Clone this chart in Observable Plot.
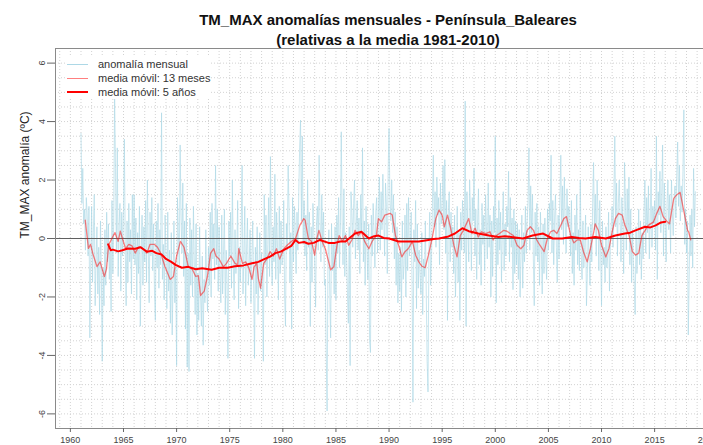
<!DOCTYPE html>
<html><head><meta charset="utf-8">
<script src="https://cdn.jsdelivr.net/npm/d3@7"></script>
<script src="https://cdn.jsdelivr.net/npm/@observablehq/plot@0.6"></script>
<style>
html,body{margin:0;padding:0;background:#fff;overflow:hidden;width:703px;height:445px}
#wrap{position:relative;width:703px;height:445px;overflow:hidden;font-family:"Liberation Sans",Arial,sans-serif}
#chart{position:absolute;left:0;top:0}
#title{position:absolute;left:0;top:10px;width:776px;text-align:center;font-weight:bold;font-size:15px;line-height:20px;color:#111}
#legend{position:absolute;left:67px;top:57px;font-size:11px;color:#333;line-height:14px;background:#fff}
#legend div{display:flex;align-items:center;height:14px}
#legend span.l{display:inline-block;width:21px;margin-right:10px}
</style></head>
<body><div id="wrap"><div id="chart"></div>
<div id="title">TM_MAX anomalías mensuales - Península_Baleares<br>(relativas a la media 1981-2010)</div>
<div id="legend">
<div><span class="l" style="border-top:1px solid #add8e6"></span>anomalía mensual</div>
<div><span class="l" style="border-top:1.3px solid rgba(255,0,0,0.5)"></span>media móvil: 13 meses</div>
<div><span class="l" style="border-top:2px solid #ff0000"></span>media móvil: 5 años</div>
</div></div>
<script>
// monthly anomalies, January 1961 onward (one row per year)
const startYear = 1961;
const anomalia = [
 3.6, 1.2, 2.4, 0.5, 1.0, -0.4, 1.4, 0.8, -0.6, 1.1, -3.4, -0.9,
 1.1, -1.5, 0.2, 1.5, -2.3, -0.8, 0.4, -1.9, -0.3, -2.6, 0.6, -1.2,
 -4.2, -1.0, -2.3, 0.3, -1.6, 0.9, -0.8, 0.5, -1.4, -0.2, -2.5, 1.3,
 -1.2, 0.6, 4.8, 2.4, -0.5, 3.1, -1.3, 0.4, 1.2, -1.8, 0.9, -0.6,
 1.0, 3.4, -0.4, -2.3, 0.6, -1.5, 1.2, -0.8, 0.3, -1.9, 1.5, -0.7,
 1.5, -0.9, 0.7, -2.1, 0.2, -1.2, 1.1, -3.0, -0.5, 0.8, -1.6, 0.4,
 -0.8, 1.3, -1.5, 2.0, -0.3, -2.2, 0.9, -0.6, 1.4, -1.1, 0.5, -1.8,
 -2.8, 0.6, -1.0, 1.2, -1.7, 0.3, -0.9, 4.3, -1.4, -0.2, -2.1, 0.8,
 -0.6, -2.4, 0.9, -1.8, -0.4, -2.9, 0.2, -3.3, -1.5, 0.6, -2.2, -1.0,
 -4.35, 1.4, 0.2, -0.9, 3.2, 0.8, -0.5, 1.9, -1.3, 0.6, -3.1, 1.2,
 -4.4, -0.5, -4.55, 0.7, -1.6, 0.3, -2.0, 1.1, -0.8, -2.6, 0.5, -3.3,
 -1.2, -2.8, 0.4, -1.9, -3.0, -0.6, -3.65, -1.4, -2.2, 0.3, -1.7, -2.5,
 -0.3, -1.6, 0.9, -2.0, 1.2, -0.7, 0.5, -1.4, 2.5, -0.9, 1.0, -1.8,
 0.4, -1.3, -2.2, 0.8, -1.9, -0.5, 1.0, -2.6, -0.4, -1.5, -4.1, 0.6,
 -0.6, 0.9, -1.7, 2.0, -0.8, -2.1, 0.3, -1.2, -0.5, 1.3, -2.4, -0.3,
 -1.5, 0.5, 2.5, -1.9, -0.6, 1.1, -2.3, -0.4, 0.7, -1.6, -0.9, 0.3,
 -2.2, -0.7, 0.6, -1.5, -4.1, -0.3, -1.9, 0.4, -2.6, -1.0, 0.2, -1.8,
 -0.5, -1.7, -4.2, 1.5, -0.9, 0.8, -2.0, -0.2, 1.4, -1.3, 2.8, -0.6,
 -1.6, 0.4, -0.8, 2.2, -1.4, 0.9, -0.3, -2.1, 1.1, -1.2, 0.6, -0.9,
 -0.7, 1.3, -1.9, -3.0, 0.5, -0.4, 2.5, 1.0, -1.5, 0.2, -3.1, 1.4,
 -0.8, 1.1, 0.3, -1.2, 0.9, -0.4, 1.6, 3.1, 4.05, 0.6, 3.5, -0.2,
 1.3, -0.6, 0.8, -1.1, 2.0, -0.3, 0.9, -3.0, 0.4, -1.5, 1.2, 0.2,
 -0.9, -2.35, 0.5, 1.1, -0.4, 2.85, 0.7, -0.8, 1.5, -0.3, 0.9, -1.6,
 -1.4, -3.9, -5.9, -0.6, 0.3, -1.8, -3.4, 0.5, -1.1, -0.2, -1.9, 0.4,
 -2.1, 0.8, -0.5, 1.4, -1.0, 0.3, 3.65, 0.6, -0.9, 1.7, -1.3, 0.2,
 -0.6, -1.9, -2.9, 0.4, -4.35, 1.6, 0.9, -0.3, 1.2, 2.0, -0.7, 0.5,
 1.3, -0.4, 0.7, -1.2, 1.5, 0.2, 3.1, -0.8, 0.6, -1.6, 1.1, -0.3,
 -1.4, 0.5, -3.5, -3.9, 0.8, -0.6, 1.2, 0.3, -1.0, 0.9, 1.4, -0.5,
 0.9, 2.1, -0.4, 1.6, 0.3, 2.2, 0.8, -0.6, 1.9, 1.1, -1.2, 2.4,
 3.77, 1.3, 0.6, 2.0, 0.2, 1.5, -0.7, 0.9, -1.6, 0.4, -2.2, -0.5,
 -1.8, -0.3, -2.5, 0.6, -1.4, -0.9, 0.8, -2.0, 1.2, -1.1, 1.4, -0.6,
 -0.2, 0.9, -1.5, -5.6, 0.3, -0.8, 1.3, -2.4, 0.5, -1.7, -0.4, -1.2,
 -1.9, 0.2, -2.6, -0.7, -1.3, 0.6, -1.8, -4.2, -5.25, -0.4, 0.9, -1.6,
 -0.6, 1.2, 2.85, 0.4, 1.6, -0.3, 2.1, 0.8, 1.4, -0.9, 1.9, 0.5,
 1.2, 2.5, 0.3, 2.7, -0.5, 1.3, -2.8, 1.0, 1.6, -0.8, 0.9, -0.3,
 0.4, -1.2, 0.8, -2.0, -0.6, 1.1, -1.5, 0.2, -2.8, 0.9, -0.4, 1.3,
 0.7, -0.5, 4.7, -3.0, 1.6, 0.3, -0.8, 2.0, 0.9, -1.1, 1.4, 0.6,
 2.4, -0.6, 1.0, -1.4, 0.5, 1.7, -0.9, 0.3, -1.6, 1.2, -0.2, 0.8,
 -1.1, 1.5, 0.4, -0.7, 1.9, -0.3, 0.8, -2.0, 0.6, -1.3, 1.1, 0.2,
 3.5, -2.2, 0.7, -0.9, 1.3, -0.4, 0.9, -1.5, 0.3, 1.6, -1.1, 0.5,
 -0.6, 1.1, 0.4, 2.3, -0.8, 1.4, -0.3, 0.7, -1.75, 1.0, -1.2, 0.6,
 -0.9, 0.5, -1.4, 0.3, -2.0, -0.6, 0.8, -1.7, 0.2, -0.8, 1.1, -0.5,
 0.6, 1.3, 3.1, -0.4, 1.8, 0.2, 1.5, -0.7, -2.3, 0.9, -0.6, 1.2,
 -0.8, 0.4, -1.6, 0.9, -0.3, -1.9, 0.5, -1.2, 0.7, -0.6, -1.4, 1.0,
 -0.4, 1.2, 0.6, 2.85, -0.5, 1.3, -0.9, 0.7, 1.5, -0.3, -1.5, 0.8,
 -0.7, 1.4, 2.85, 0.3, 1.8, -0.2, 2.1, 0.6, -0.5, 1.7, 0.4, 1.1,
 0.9, -0.6, 1.3, -1.2, 0.2, -1.6, 0.8, -0.4, 1.5, -0.9, 0.3, -1.1,
 2.0, -0.5, -1.4, 0.6, -1.0, -0.3, 0.8, -2.3, -1.2, 0.4, -0.7, -1.6,
 0.5, -0.8, 1.2, 2.6, 0.3, 1.5, -0.6, 2.0, 0.9, -1.1, 1.3, -0.4,
 -2.3, 0.6, -0.9, -0.3, -1.5, 0.4, -1.0, -0.6, 0.9, -1.8, -0.2, 0.5,
 1.1, -0.3, 1.5, 3.5, 0.4, 1.9, -0.6, 1.2, 2.0, 0.7, -0.8, 1.4,
 0.6, -1.2, 2.6, 1.3, -0.4, 1.7, 0.2, 2.1, -0.9, 1.0, -1.5, 0.3,
 -0.8, -1.6, -2.6, 0.4, -1.2, -0.3, 1.0, -0.9, 0.6, -1.4, 0.2, -0.7,
 0.9, 2.0, -0.5, 1.4, 0.2, 1.8, -0.7, 0.6, 2.4, -0.3, 1.1, 0.5,
 1.3, -0.4, 3.5, -1.4, 1.6, 0.8, 2.3, 0.2, 1.5, 3.2, -0.6, 1.9,
 0.5, -0.8, 1.2, 2.0, 0.3, 1.5, -0.5, 2.0, 0.9, 0.1, 1.3, 1.8,
 0.7, 2.2, 3.3, 1.1, 2.5, 0.6, 1.8, 0.9, 2.3, 4.4, -0.2, 1.0,
 -0.5, 0.6, -3.3, -1.4, 0.8, -0.6, 1.0, -1.0, 2.4, 0.4, 1.6
];

// 13-month moving average (year, value)
const ma13Year = [1961.4,1961.7,1961.9,1962.1,1962.5,1962.8,1963.2,1963.4,1963.6,1963.9,1964.2,1964.5,1964.7,1964.9,1965.2,1965.5,1965.8,1966.1,1966.4,1966.7,1967.0,1967.2,1967.5,1967.9,1968.2,1968.5,1968.9,1969.4,1969.7,1970.0,1970.36,1970.7,1971.1,1971.5,1971.8,1972.05,1972.25,1972.6,1972.9,1973.2,1973.5,1973.7,1974.0,1974.4,1974.7,1975.1,1975.5,1975.75,1975.85,1976.2,1976.5,1976.8,1977.1,1977.3,1977.55,1977.7,1977.9,1978.2,1978.5,1978.8,1979.1,1979.4,1979.7,1980.1,1980.4,1980.8,1981.2,1981.6,1981.97,1982.1,1982.4,1982.7,1983.0,1983.2,1983.4,1983.7,1984.0,1984.5,1984.8,1985.1,1985.3,1985.6,1985.9,1986.2,1986.5,1986.8,1987.1,1987.4,1987.7,1988.1,1988.4,1988.8,1989.0,1989.3,1989.6,1990.1,1990.3,1990.6,1990.9,1991.2,1991.5,1991.8,1992.2,1992.5,1992.8,1993.1,1993.4,1993.7,1994.05,1994.4,1994.7,1995.0,1995.2,1995.5,1995.8,1996.1,1996.4,1996.7,1997.0,1997.5,1997.8,1998.1,1998.4,1998.7,1999.1,1999.5,1999.8,2000.1,2000.4,2000.8,2001.1,2001.4,2001.7,2002.05,2002.4,2002.7,2003.0,2003.3,2003.6,2003.9,2004.2,2004.6,2004.9,2005.2,2005.5,2005.8,2006.1,2006.45,2006.7,2007.1,2007.4,2007.7,2008.0,2008.3,2008.65,2008.95,2009.3,2009.4,2009.7,2010.0,2010.4,2010.7,2011.0,2011.3,2011.6,2011.95,2012.2,2012.6,2012.9,2013.2,2013.5,2013.8,2014.1,2014.4,2014.9,2015.2,2015.5,2015.8,2016.2,2016.4,2016.8,2017.1,2017.4,2017.7,2018.1,2018.2,2018.4];
const ma13Val = [0.63,-0.34,-0.2,-0.5,-0.96,-0.8,-1.3,-1.05,-0.23,0.0,0.2,-0.1,0.25,0.0,-0.35,-0.2,-0.25,-0.5,-0.3,-0.3,-0.4,-0.5,-0.2,-0.2,-0.3,-0.5,-0.96,-1.4,-1.3,-0.6,-0.1,-0.3,-0.96,-1.07,-1.3,-1.27,-1.95,-1.8,-1.3,-0.5,-0.35,-0.6,-0.7,-0.97,-0.85,-0.6,-0.85,-0.9,-0.35,-0.85,-0.8,-1.0,-1.4,-0.97,-0.85,-1.37,-1.7,-0.85,-0.7,-0.45,-0.6,-0.35,-0.7,-0.35,-0.23,-0.1,0.0,0.45,0.68,0.63,0.0,-0.1,-0.57,0.0,0.28,-0.1,-0.35,-1.07,-0.97,-0.23,0.1,-0.1,0.1,-0.23,-0.05,0.28,0.1,0.23,-0.1,-0.35,-0.1,0.1,0.68,0.57,0.8,0.86,0.8,0.1,-0.23,-0.63,-0.45,-0.35,-0.1,-0.57,-0.8,-0.95,-1.0,-0.57,0.0,0.68,0.97,0.8,0.4,0.8,0.35,-0.23,-0.63,0.1,0.28,0.68,0.17,0.35,0.05,0.23,0.17,0.23,-0.05,0.1,0.17,0.28,0.25,0.17,0.1,-0.23,-0.35,-0.23,0.28,0.4,0.28,-0.05,-0.23,-0.45,0.0,0.23,0.28,0.17,0.4,0.68,0.75,0.1,-0.15,-0.05,-0.05,-0.45,-0.8,-0.35,0.28,0.5,0.28,-0.23,-0.63,-0.35,0.23,0.68,0.86,0.8,0.45,0.1,-0.45,-0.57,-0.5,0.1,0.28,0.45,0.57,0.86,1.1,0.75,0.57,0.5,1.37,1.5,1.58,1.03,0.28,0.23,-0.05];

// 5-year moving average (year, value)
const ma5Year = [1963.55,1963.8,1964.0,1964.5,1964.9,1965.4,1966.1,1966.6,1967.2,1967.7,1968.1,1968.6,1969.0,1969.5,1969.9,1970.5,1971.1,1971.8,1972.4,1973.3,1974.0,1974.8,1975.5,1976.3,1977.1,1977.7,1978.3,1978.8,1979.3,1979.8,1980.2,1980.8,1981.2,1981.5,1982.0,1982.4,1982.9,1983.5,1984.3,1984.9,1985.4,1985.9,1986.4,1986.8,1987.4,1988.1,1988.6,1989.0,1989.5,1990.0,1990.9,1991.8,1992.8,1993.7,1994.2,1994.7,1995.6,1996.2,1996.9,1997.5,1998.4,1999.4,2000.3,2000.9,2001.5,2002.6,2003.5,2004.5,2005.4,2006.3,2007.2,2007.9,2008.5,2009.4,2010.4,2011.3,2012.2,2012.7,2013.2,2014.1,2014.6,2015.1,2015.6,2016.0];
const ma5Val = [-0.2,-0.4,-0.38,-0.44,-0.4,-0.34,-0.35,-0.3,-0.45,-0.42,-0.5,-0.55,-0.7,-0.8,-0.9,-1.0,-0.97,-1.05,-1.02,-1.07,-1.0,-1.0,-0.95,-0.92,-0.85,-0.8,-0.7,-0.62,-0.5,-0.45,-0.37,-0.25,-0.05,-0.15,-0.12,-0.18,-0.15,-0.05,-0.15,-0.15,-0.1,-0.1,0.05,0.17,0.23,0.0,0.08,0.1,0.02,0.0,-0.1,-0.1,-0.1,-0.05,-0.02,0.0,0.07,0.17,0.35,0.25,0.17,0.1,0.05,0.08,0.05,0.0,0.1,0.17,0.0,0.0,0.05,0.02,0.0,0.05,0.0,0.1,0.17,0.2,0.28,0.4,0.38,0.45,0.55,0.57];

const yTicks = [-6, -4, -2, 0, 2, 4, 6];
const xTicks = [1960, 1965, 1970, 1975, 1980, 1985, 1990, 1995, 2000, 2005, 2010, 2015, 2020];
const yLabel = "TM_MAX anomalía (ºC)";

const monthly = anomalia.map((v, i) => ({x: startYear + i / 12, y: v}));
const ma13 = ma13Year.map((x, i) => ({x, y: ma13Val[i]}));
const ma5 = ma5Year.map((x, i) => ({x, y: ma5Val[i]}));

const gridStyle = {stroke: "#d2d2d2", strokeOpacity: 1, strokeDasharray: "1,2", strokeWidth: 1};

const chart = Plot.plot({
  width: 750, height: 445,
  marginLeft: 55, marginRight: 30, marginTop: 48, marginBottom: 17,
  style: {fontFamily: "'Liberation Sans', Arial, sans-serif", fontSize: "9px", color: "#444", background: "white", maxWidth: "none", overflow: "visible"},
  x: {domain: [1958.6, 2021.2]},
  y: {domain: [-6.5, 6.5]},
  marks: [
    Plot.gridX(d3.range(1959, 2022), gridStyle),
    Plot.gridY(d3.range(-6.5, 6.51, 0.5), gridStyle),
    Plot.line(monthly, {x: "x", y: "y", stroke: "#add8e6", strokeOpacity: 0.75, strokeWidth: 0.9}),
    Plot.ruleY([0], {stroke: "#606060", strokeWidth: 1}),
    Plot.line(ma13, {x: "x", y: "y", stroke: "red", strokeOpacity: 0.5, strokeWidth: 1.3}),
    Plot.line(ma5, {x: "x", y: "y", stroke: "#ff0000", strokeWidth: 2}),
    Plot.frame({stroke: "#8a8a8a"}),
    Plot.axisX(xTicks, {tickSize: 4, tickPadding: 4, tickFormat: d => String(d), label: null, fontSize: 9, stroke: "#666"}),
    Plot.axisY(yTicks, {tickSize: 8, tickPadding: 3, tickRotate: -90, tickFormat: d => String(d), label: null, fontSize: 9, stroke: "#666"}),
    Plot.text([yLabel], {frameAnchor: "left", rotate: -90, dx: -30, fontSize: 12, fill: "#222"})
  ]
});
document.getElementById("chart").appendChild(chart);
</script></body></html>
